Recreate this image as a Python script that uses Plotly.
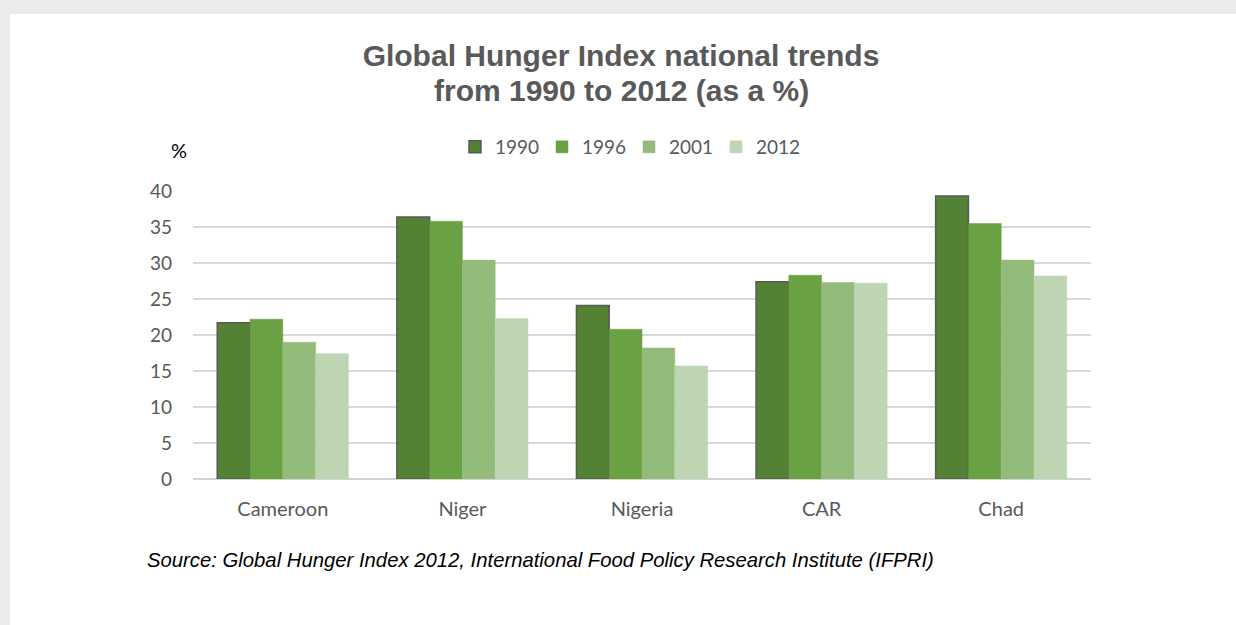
import plotly.graph_objects as go

countries = ["Cameroon", "Niger", "Nigeria", "CAR", "Chad"]
years = ["1990", "1996", "2001", "2012"]
ghi_1990 = [21.7, 36.4, 24.1, 27.4, 39.3]
ghi_1996 = [22.2, 35.8, 20.8, 28.3, 35.5]
ghi_2001 = [19.0, 30.4, 18.2, 27.3, 30.4]
ghi_2012 = [17.4, 22.3, 15.7, 27.2, 28.2]
y_ticks = [0, 5, 10, 15, 20, 25, 30, 35, 40]

series = [ghi_1990, ghi_1996, ghi_2001, ghi_2012]
colors = ["#548235", "#6aa142", "#93bb7a", "#bdd5b2"]
outlines = ["#595959", "#6aa142", "#93bb7a", "#bdd5b2"]

W, H = 1236, 625
L, R, T, B = 193, 1091, 191, 479   # plot area in pixels
pw, ph = R - L, B - T


def px(x):
    return (x - L) / pw


def py(y):
    return (B - y) / ph


fig = go.Figure()
for yr, vals, c, oc in zip(years, series, colors, outlines):
    fig.add_trace(go.Bar(x=countries, y=vals, name=yr,
                         marker=dict(color=c, line=dict(color=oc, width=1.5 if yr == "1990" else 0.5))))

txt = "#595959"
lab_font = "Lato"
title_font = dict(family="Arial, Liberation Sans", size=30, color=txt, weight="bold")
fig.update_layout(
    width=W, height=H,
    margin=dict(l=L, r=W - R, t=T, b=H - B),
    paper_bgcolor="white", plot_bgcolor="white",
    barmode="group", bargap=0.27, bargroupgap=0,
    title=dict(text="Global Hunger Index national trends",
               x=621 / W, xanchor="center", y=1 - 55 / H, yanchor="middle", yref="container",
               font=title_font),
    legend=dict(orientation="h", x=px(455), xanchor="left", y=py(147), yanchor="middle",
                font=dict(family=lab_font, size=19, color=txt),
                itemwidth=30, entrywidth=42, entrywidthmode="pixels",
                traceorder="normal", bgcolor="rgba(0,0,0,0)"),
    font=dict(family=lab_font, color=txt),
    xaxis=dict(showgrid=False, showline=False, ticks="", ticklabelstandoff=16,
               tickfont=dict(size=20, color=txt)),
    yaxis=dict(range=[0, 40], tickvals=y_ticks, showgrid=True, gridcolor="#d9d9d9", gridwidth=1.5,
               zeroline=True, zerolinecolor="#d3d3d3", zerolinewidth=2,
               ticks="", ticklabelstandoff=20, tickfont=dict(size=19, color=txt)),
    showlegend=True,
)

# second title line
fig.add_annotation(text="from 1990 to 2012 (as a %)", xref="paper", yref="paper",
                   x=px(621), y=py(91), xanchor="center", yanchor="middle",
                   showarrow=False, font=title_font)

# gray strips framing the page (top and left)
fig.add_shape(type="rect", xref="paper", yref="paper", x0=px(0), x1=px(W), y0=py(14), y1=py(0),
              fillcolor="#ebebeb", line_width=0, layer="below")
fig.add_shape(type="rect", xref="paper", yref="paper", x0=px(0), x1=px(10), y0=py(H), y1=py(0),
              fillcolor="#ebebeb", line_width=0, layer="below")

fig.add_annotation(text="%", xref="paper", yref="paper", x=px(179), y=py(150),
                   xanchor="center", yanchor="middle",
                   showarrow=False, font=dict(family=lab_font, size=20, color="black"))
fig.add_annotation(text="<i>Source: Global Hunger Index 2012, International Food Policy Research Institute (IFPRI)</i>",
                   xref="paper", yref="paper", x=px(145), y=py(560), xanchor="left", yanchor="middle",
                   showarrow=False, font=dict(family="Arial, Liberation Sans", size=20.3, color="black"))

fig.write_html("out.html", config={"displayModeBar": False},
               post_script="document.body.style.margin='0';")
